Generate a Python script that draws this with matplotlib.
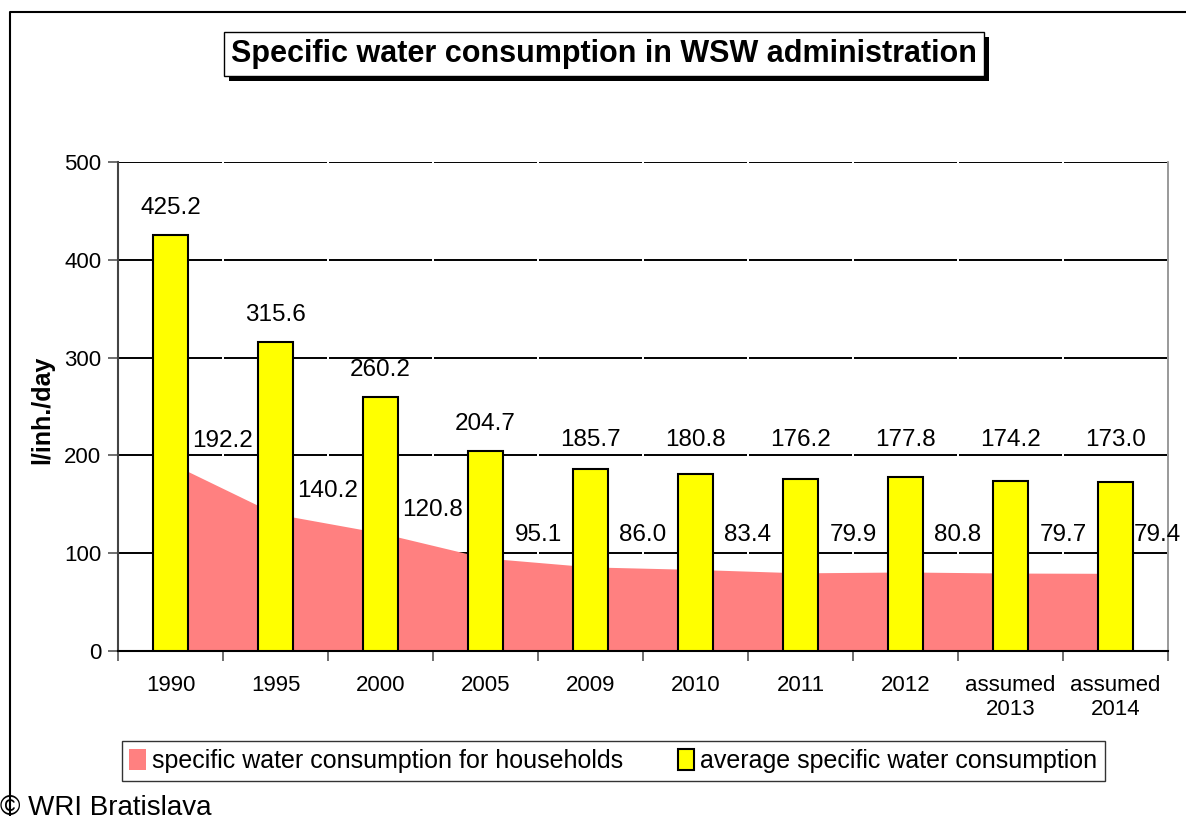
import numpy as np
import matplotlib.pyplot as plt
from matplotlib.patches import Patch, Rectangle
from matplotlib.lines import Line2D

plt.rcParams['font.family'] = ['Liberation Sans', 'DejaVu Sans']

categories = ["1990", "1995", "2000", "2005", "2009", "2010", "2011", "2012",
              "assumed\n2013", "assumed\n2014"]
average = [425.2, 315.6, 260.2, 204.7, 185.7, 180.8, 176.2, 177.8, 174.2, 173.0]
households = [192.2, 140.2, 120.8, 95.1, 86.0, 83.4, 79.9, 80.8, 79.7, 79.4]

W, H = 1186, 816
fig = plt.figure(figsize=(W / 100, H / 100), dpi=100)
ax = fig.add_axes([118 / W, 1 - 651 / H, (1168 - 118) / W, (651 - 162) / H])

x = np.arange(len(categories))

# dashed-looking gridlines: one segment per category, small gap at boundaries
for yv in range(100, 501, 100):
    ax.hlines(np.full(len(x), yv), x - 0.5 + 0.012, x + 0.5 - 0.012,
              color="black", lw=1.4, zorder=1)

ax.fill_between(x, households, 0, color="#FF8080", lw=0, zorder=2)
ax.bar(x, average, width=0.33, color="#FFFF00", edgecolor="black", lw=1.5, zorder=3)

# labels
avg = np.array(average)
hh = np.array(households)
last = len(x) - 1
for i in x:
    ax.text(i, max(avg[i], 188) + 27.6, f"{avg[i]:.1f}", ha="center", va="center",
            fontsize=17.5, zorder=5)
    # keep the last label inside the figure, like the original does
    lx = min(i + 0.5, last + 0.4)
    ax.text(lx, max(hh[i], 96) + 23, f"{hh[i]:.1f}", ha="center", va="center",
            fontsize=17.5, zorder=5, clip_on=False)

ax.set_xlim(-0.5, len(categories) - 0.5)
ax.set_ylim(0, 500)
ax.set_yticks(range(0, 501, 100))
ax.set_xticks(x)
ax.set_xticklabels(categories, fontsize=16, linespacing=1.2)
ax.set_xticks(np.arange(-0.5, len(categories)), minor=True)
ax.tick_params(axis="x", which="major", length=0, pad=17)
ax.tick_params(axis="x", which="minor", length=7, color="#555555", width=1.2)
ax.tick_params(axis="y", length=7, color="#555555", width=1.2, labelsize=16, pad=5)

ax.spines["top"].set_visible(False)
ax.spines["left"].set_color("#444444")
ax.spines["left"].set_linewidth(1.5)
ax.spines["bottom"].set_color("black")
ax.spines["bottom"].set_linewidth(1.5)
ax.spines["right"].set_color("#888888")
ax.spines["right"].set_linewidth(1.2)

fig.text(42 / W, 1 - 410 / H, "l/inh./day", rotation=90, ha="center", va="center",
         fontsize=18, fontweight="bold")

# title box with drop shadow
title = fig.text(604 / W, 1 - 54 / H, "Specific water consumption in WSW administration",
                 ha="center", va="center", fontsize=22, fontweight="bold", zorder=4,
                 bbox=dict(boxstyle="square,pad=0.22", fc="white", ec="black", lw=1))
fig.canvas.draw()
bb = title.get_bbox_patch().get_window_extent()
fig.add_artist(Rectangle((bb.x0 + 5, bb.y0 - 5), bb.width, bb.height, transform=None,
                         fc="black", ec="none", zorder=3))

handles = [Patch(facecolor="#FF8080", edgecolor="none",
                 label="specific water consumption for households"),
           Patch(facecolor="#FFFF00", edgecolor="black", lw=1.5,
                 label="average specific water consumption")]
leg = fig.legend(handles=handles, loc="center", ncol=2,
                 bbox_to_anchor=((112 + 1115) / 2 / W, 1 - 761 / H),
                 fontsize=18, frameon=True, fancybox=False, edgecolor="black",
                 handlelength=0.65, handleheight=0.95, handletextpad=0.25,
                 columnspacing=2.2, borderpad=0.3, borderaxespad=0.0)
leg.get_frame().set_linewidth(1)

# outer frame
fig.add_artist(Line2D([10 / W, 10 / W, 1], [0, 1 - 12 / H, 1 - 12 / H],
                      transform=fig.transFigure, color="black", lw=1.5))

fig.text(0.0, 1 / H, "© WRI Bratislava", ha="left", va="baseline", fontsize=20)

fig.savefig("out.png", dpi=100)
